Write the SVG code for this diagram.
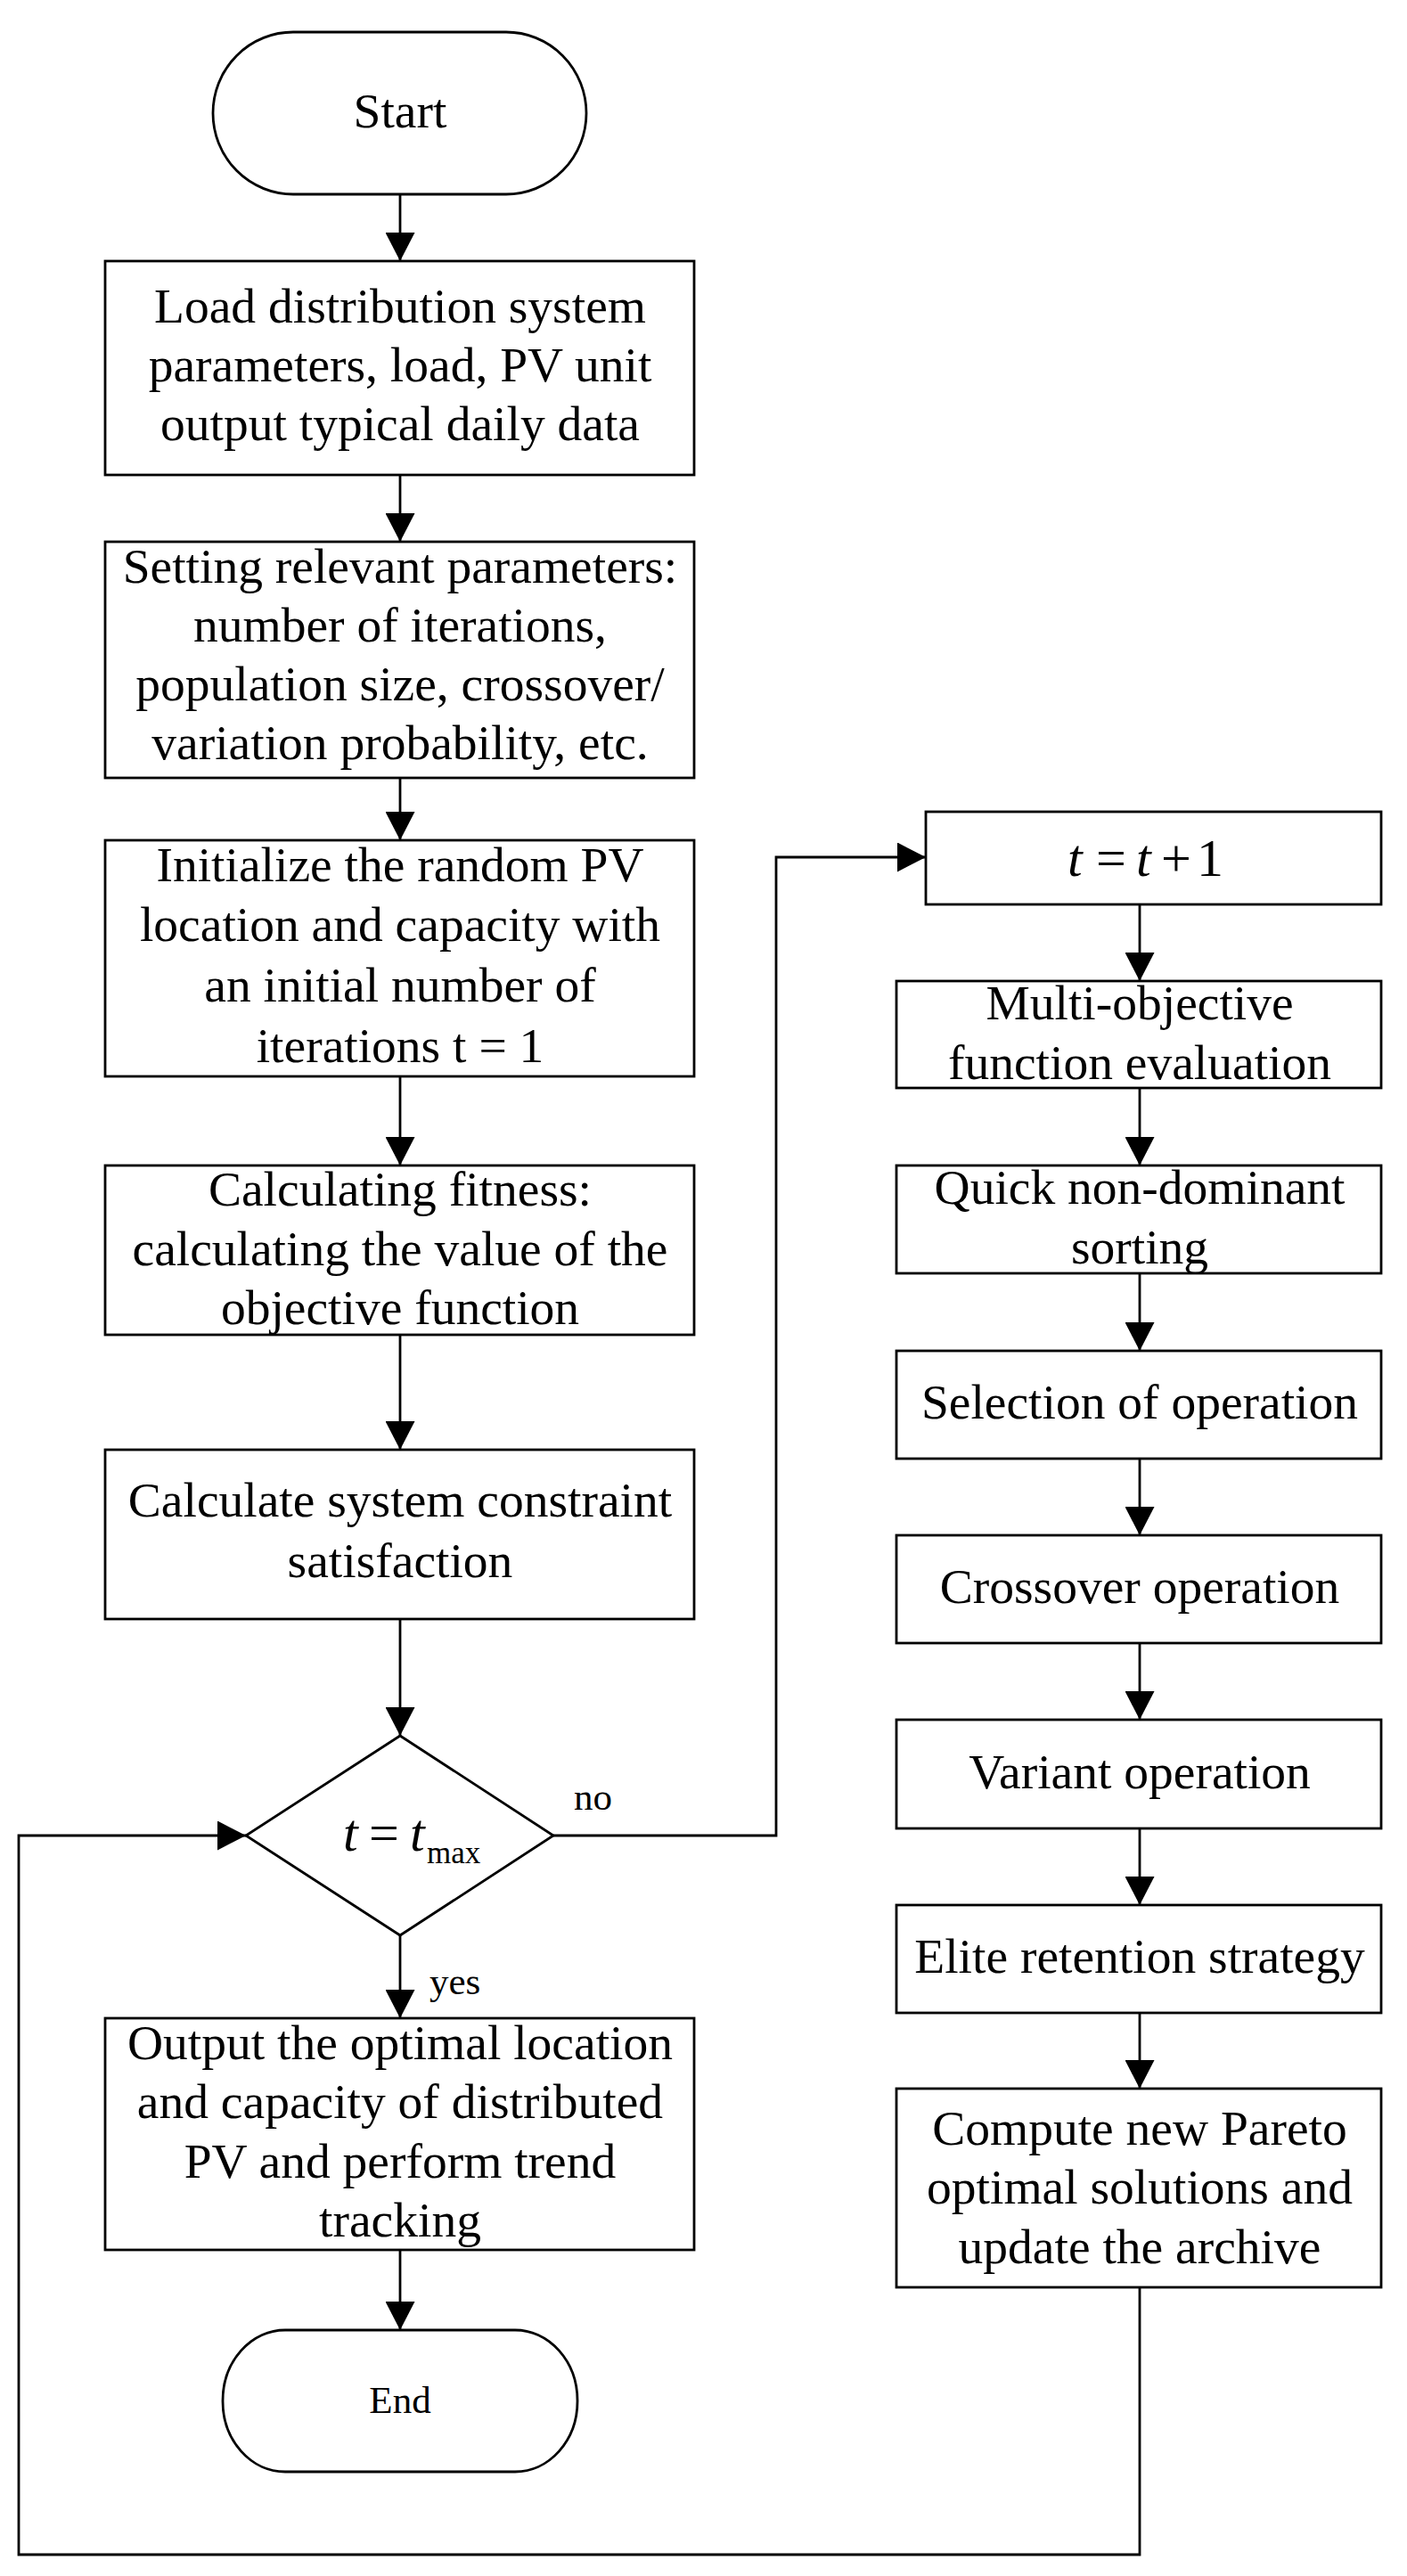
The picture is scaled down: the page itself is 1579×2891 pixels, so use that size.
<svg xmlns="http://www.w3.org/2000/svg" width="1579" height="2891" viewBox="0 0 1579 2891">
<style>
.b{fill:#fff;stroke:#000;stroke-width:2.8}
.t{font-family:"Liberation Serif","Times New Roman",serif;font-size:55.5px;fill:#000;text-anchor:middle}
.s{font-family:"Liberation Serif","Times New Roman",serif;font-size:43px;fill:#000}
.m{font-family:"Liberation Serif","Times New Roman",serif;fill:#000}
.c{fill:none;stroke:#000;stroke-width:2.8}
</style>
<defs>
<marker id="ah" viewBox="0 0 32 33" refX="32" refY="16.5" markerWidth="32" markerHeight="33" markerUnits="userSpaceOnUse" orient="auto">
<path d="M0,0 L32,16.5 L0,33 Z" fill="#000"/>
</marker>
</defs>
<rect width="1579" height="2891" fill="#fff"/>
<g id="connectors">
<path class="c" d="M449,218 V293" marker-end="url(#ah)"/>
<path class="c" d="M449,533 V608" marker-end="url(#ah)"/>
<path class="c" d="M449,873 V943" marker-end="url(#ah)"/>
<path class="c" d="M449,1208 V1308" marker-end="url(#ah)"/>
<path class="c" d="M449,1498 V1627" marker-end="url(#ah)"/>
<path class="c" d="M449,1817 V1948" marker-end="url(#ah)"/>
<path class="c" d="M449,2172 V2265" marker-end="url(#ah)"/>
<path class="c" d="M449,2525 V2615" marker-end="url(#ah)"/>
<path class="c" d="M621,2060 H871 V962 H1039" marker-end="url(#ah)"/>
<path class="c" d="M1279,1015 V1101" marker-end="url(#ah)"/>
<path class="c" d="M1279,1221 V1308" marker-end="url(#ah)"/>
<path class="c" d="M1279,1429 V1516" marker-end="url(#ah)"/>
<path class="c" d="M1279,1637 V1723" marker-end="url(#ah)"/>
<path class="c" d="M1279,1844 V1930" marker-end="url(#ah)"/>
<path class="c" d="M1279,2052 V2138" marker-end="url(#ah)"/>
<path class="c" d="M1279,2259 V2344" marker-end="url(#ah)"/>
<path class="c" d="M1279,2567 V2867 H21 V2060 H276" marker-end="url(#ah)"/>
<text class="s" x="644" y="2031">no</text>
<text class="s" x="482" y="2238">yes</text>
</g>
<g id="start">
<rect class="b" x="239" y="36" width="419" height="182" rx="90" ry="91"/>
<text class="t" x="449" y="143">Start</text>
</g>
<g id="load">
<rect class="b" x="118" y="293" width="661" height="240"/>
<text class="t" x="449" y="362">Load distribution system</text>
<text class="t" x="449" y="428">parameters, load, PV unit</text>
<text class="t" x="449" y="494">output typical daily data</text>
</g>
<g id="setting">
<rect class="b" x="118" y="608" width="661" height="265"/>
<text class="t" x="449" y="654">Setting relevant parameters:</text>
<text class="t" x="449" y="720">number of iterations,</text>
<text class="t" x="449" y="786">population size, crossover/</text>
<text class="t" x="449" y="852">variation probability, etc.</text>
</g>
<g id="init">
<rect class="b" x="118" y="943" width="661" height="265"/>
<text class="t" x="449" y="989">Initialize the random PV</text>
<text class="t" x="449" y="1056">location and capacity with</text>
<text class="t" x="449" y="1124">an initial number of</text>
<text class="t" x="449" y="1192">iterations t = 1</text>
</g>
<g id="fitness">
<rect class="b" x="118" y="1308" width="661" height="190"/>
<text class="t" x="449" y="1353">Calculating fitness:</text>
<text class="t" x="449" y="1420">calculating the value of the</text>
<text class="t" x="449" y="1486">objective function</text>
</g>
<g id="constraint">
<rect class="b" x="118" y="1627" width="661" height="190"/>
<text class="t" x="449" y="1702">Calculate system constraint</text>
<text class="t" x="449" y="1770">satisfaction</text>
</g>
<g id="decision">
<polygon class="b" points="449,1948 621,2060 449,2172 276,2060"/>
<text class="m" x="385" y="2077" font-size="60" font-style="italic">t</text>
<text class="m" x="414" y="2077" font-size="60">=</text>
<text class="m" x="460" y="2077" font-size="60" font-style="italic">t</text>
<text class="m" x="479" y="2091" font-size="35">max</text>
</g>
<g id="output">
<rect class="b" x="118" y="2265" width="661" height="260"/>
<text class="t" x="449" y="2311">Output the optimal location</text>
<text class="t" x="449" y="2377">and capacity of distributed</text>
<text class="t" x="449" y="2444">PV and perform trend</text>
<text class="t" x="449" y="2510">tracking</text>
</g>
<g id="end">
<rect class="b" x="250" y="2615" width="398" height="159" rx="70" ry="79"/>
<text class="s" x="449" y="2708" text-anchor="middle" font-size="45">End</text>
</g>
<g id="increment">
<rect class="b" x="1039" y="911" width="511" height="104"/>
<text class="m" x="1198" y="983" font-size="60" font-style="italic">t</text>
<text class="m" x="1230" y="983" font-size="60">=</text>
<text class="m" x="1275" y="983" font-size="60" font-style="italic">t</text>
<text class="m" x="1303" y="983" font-size="60">+</text>
<text class="m" x="1343" y="983" font-size="60">1</text>
</g>
<g id="multi">
<rect class="b" x="1006" y="1101" width="544" height="120"/>
<text class="t" x="1279" y="1144">Multi-objective</text>
<text class="t" x="1279" y="1211">function evaluation</text>
</g>
<g id="quick">
<rect class="b" x="1006" y="1308" width="544" height="121"/>
<text class="t" x="1279" y="1351">Quick non-dominant</text>
<text class="t" x="1279" y="1418">sorting</text>
</g>
<g id="selection">
<rect class="b" x="1006" y="1516" width="544" height="121"/>
<text class="t" x="1279" y="1592">Selection of operation</text>
</g>
<g id="crossover">
<rect class="b" x="1006" y="1723" width="544" height="121"/>
<text class="t" x="1279" y="1799">Crossover operation</text>
</g>
<g id="variant">
<rect class="b" x="1006" y="1930" width="544" height="122"/>
<text class="t" x="1279" y="2007">Variant operation</text>
</g>
<g id="elite">
<rect class="b" x="1006" y="2138" width="544" height="121"/>
<text class="t" x="1279" y="2214">Elite retention strategy</text>
</g>
<g id="pareto">
<rect class="b" x="1006" y="2344" width="544" height="223"/>
<text class="t" x="1279" y="2407">Compute new Pareto</text>
<text class="t" x="1279" y="2473">optimal solutions and</text>
<text class="t" x="1279" y="2540">update the archive</text>
</g>
</svg>
